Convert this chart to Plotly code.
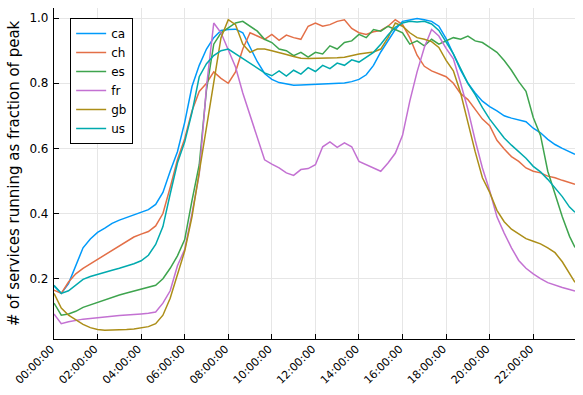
import plotly.graph_objects as go

# time of day in hours (20-minute steps, last sample at 23:55)
hours = [i / 3 for i in range(72)] + [23 + 55 / 60]

ca = [0.178, 0.155, 0.185, 0.240, 0.295, 0.322, 0.342, 0.355, 0.370, 0.380, 0.388, 0.395,
      0.403, 0.412, 0.428, 0.465, 0.530, 0.590, 0.680, 0.790, 0.855, 0.905, 0.940, 0.962,
      0.965, 0.966, 0.955, 0.910, 0.866, 0.830, 0.812, 0.802, 0.797, 0.794, 0.795, 0.796,
      0.797, 0.798, 0.799, 0.800, 0.801, 0.805, 0.812, 0.826, 0.855, 0.896, 0.930, 0.965,
      0.990, 0.995, 0.999, 0.995, 0.990, 0.975, 0.937, 0.890, 0.840, 0.800, 0.770, 0.745,
      0.728, 0.715, 0.700, 0.693, 0.687, 0.682, 0.662, 0.648, 0.628, 0.612, 0.600, 0.590,
      0.582]

ch = [0.165, 0.155, 0.190, 0.215, 0.232, 0.246, 0.260, 0.272, 0.287, 0.300, 0.315, 0.328,
      0.337, 0.345, 0.362, 0.400, 0.480, 0.565, 0.630, 0.715, 0.775, 0.800, 0.835, 0.815,
      0.800, 0.835, 0.905, 0.955, 0.945, 0.935, 0.950, 0.932, 0.948, 0.940, 0.935, 0.975,
      0.985, 0.975, 0.980, 0.990, 0.995, 0.968, 0.955, 0.950, 0.958, 0.962, 0.975, 0.995,
      0.980, 0.940, 0.886, 0.852, 0.838, 0.828, 0.820, 0.800, 0.768, 0.750, 0.720, 0.690,
      0.670, 0.625, 0.598, 0.575, 0.560, 0.540, 0.530, 0.525, 0.515, 0.510, 0.502, 0.495,
      0.490]

es = [0.125, 0.088, 0.092, 0.100, 0.112, 0.120, 0.127, 0.134, 0.143, 0.150, 0.156, 0.162,
      0.168, 0.174, 0.180, 0.200, 0.232, 0.270, 0.320, 0.440, 0.550, 0.780, 0.920, 0.955,
      0.970, 0.985, 0.990, 0.975, 0.960, 0.935, 0.925, 0.905, 0.900, 0.885, 0.895, 0.880,
      0.895, 0.890, 0.915, 0.905, 0.925, 0.930, 0.950, 0.940, 0.965, 0.960, 0.975, 0.965,
      0.955, 0.920, 0.930, 0.915, 0.935, 0.920, 0.930, 0.940, 0.935, 0.945, 0.930, 0.925,
      0.910, 0.895, 0.870, 0.840, 0.805, 0.775, 0.695, 0.640, 0.530, 0.460, 0.390, 0.330,
      0.296]

fr = [0.092, 0.062, 0.068, 0.073, 0.076, 0.078, 0.081, 0.083, 0.085, 0.087, 0.088, 0.090,
      0.092, 0.094, 0.098, 0.125, 0.163, 0.240, 0.290, 0.400, 0.520, 0.790, 0.985, 0.955,
      0.905, 0.850, 0.770, 0.700, 0.635, 0.565, 0.552, 0.540, 0.525, 0.517, 0.535, 0.538,
      0.550, 0.605, 0.620, 0.603, 0.617, 0.605, 0.560, 0.550, 0.540, 0.530, 0.555, 0.585,
      0.640, 0.745, 0.835, 0.910, 0.965, 0.945, 0.907, 0.875, 0.800, 0.720, 0.625, 0.540,
      0.470, 0.390, 0.340, 0.295, 0.256, 0.232, 0.215, 0.200, 0.188, 0.180, 0.173, 0.167,
      0.162]

gb = [0.155, 0.110, 0.088, 0.073, 0.060, 0.050, 0.044, 0.042, 0.042, 0.043, 0.044, 0.046,
      0.049, 0.053, 0.062, 0.088, 0.140, 0.210, 0.285, 0.390, 0.530, 0.670, 0.800, 0.940,
      0.995, 0.980, 0.920, 0.895, 0.905, 0.905, 0.900, 0.895, 0.888, 0.882, 0.877, 0.876,
      0.876, 0.876, 0.876, 0.878, 0.880, 0.886, 0.890, 0.893, 0.896, 0.905, 0.940, 0.985,
      0.975, 0.955, 0.940, 0.935, 0.928, 0.910, 0.870, 0.838, 0.770, 0.680, 0.590, 0.510,
      0.465, 0.410, 0.375, 0.352, 0.338, 0.323, 0.315, 0.307, 0.295, 0.280, 0.252, 0.215,
      0.189]

us = [0.180, 0.155, 0.163, 0.180, 0.198, 0.207, 0.214, 0.220, 0.226, 0.232, 0.238, 0.246,
      0.255, 0.272, 0.305, 0.360, 0.460, 0.555, 0.620, 0.710, 0.820, 0.860, 0.885, 0.900,
      0.905, 0.890, 0.875, 0.860, 0.845, 0.832, 0.823, 0.838, 0.822, 0.840, 0.828, 0.848,
      0.836, 0.855, 0.845, 0.862, 0.855, 0.872, 0.865, 0.880, 0.895, 0.920, 0.948, 0.972,
      0.985, 0.990, 0.988, 0.990, 0.982, 0.962, 0.925, 0.890, 0.845, 0.800, 0.765, 0.725,
      0.690, 0.660, 0.632, 0.610, 0.590, 0.570, 0.545, 0.528, 0.505, 0.478, 0.452, 0.420,
      0.404]

series_names = ["ca", "ch", "es", "fr", "gb", "us"]
series_values = [ca, ch, es, fr, gb, us]
colors = ["#009AFA", "#E36F47", "#3EA44E", "#C371D2", "#AC8E18", "#00AAAE"]

x_tick_vals = list(range(0, 24, 2))
x_tick_labels = ["%02d:00:00" % h for h in x_tick_vals]
y_tick_vals = [0.2, 0.4, 0.6, 0.8, 1.0]
y_tick_labels = ["0.2", "0.4", "0.6", "0.8", "1.0"]

fig = go.Figure()
for name, vals, col in zip(series_names, series_values, colors):
    fig.add_trace(go.Scatter(x=hours, y=vals, mode="lines", name=name,
                             line=dict(color=col, width=1.5)))

font = "DejaVu Sans, Arial, sans-serif"
fig.update_layout(
    width=583, height=395,
    margin=dict(l=54, r=8, t=8, b=56),
    paper_bgcolor="white", plot_bgcolor="white",
    font=dict(family=font, size=12, color="black"),
    showlegend=True,
    legend=dict(x=0.031, y=0.97, xanchor="left", yanchor="top",
                bgcolor="white", bordercolor="black", borderwidth=1,
                font=dict(size=12), itemwidth=30, tracegroupgap=0),
    xaxis=dict(range=[0, hours[-1]], tickvals=x_tick_vals, ticktext=x_tick_labels,
               tickangle=-45, ticks="inside", ticklen=5, tickcolor="black",
               showline=True, linecolor="black", linewidth=1.2,
               showgrid=True, gridcolor="#e6e6e6", gridwidth=1,
               zeroline=False, mirror=False, tickfont=dict(size=11),
               automargin=False, ticklabelshift=-3, ticklabelstandoff=-2),
    yaxis=dict(range=[0.015, 1.031], tickvals=y_tick_vals, ticktext=y_tick_labels,
               ticks="inside", ticklen=5, tickcolor="black",
               showline=True, linecolor="black", linewidth=1.2,
               showgrid=True, gridcolor="#e6e6e6", gridwidth=1,
               zeroline=False, mirror=False, tickfont=dict(size=12),
               automargin=False, ticklabelstandoff=2,
               title=dict(text="# of services running as fraction of peak",
                          font=dict(size=15), standoff=6)),
)

fig.write_html("out.html", config={"displayModeBar": False},
               post_script="document.body.style.margin='0';document.body.style.padding='0';"
                           "document.body.style.overflow='hidden';")
